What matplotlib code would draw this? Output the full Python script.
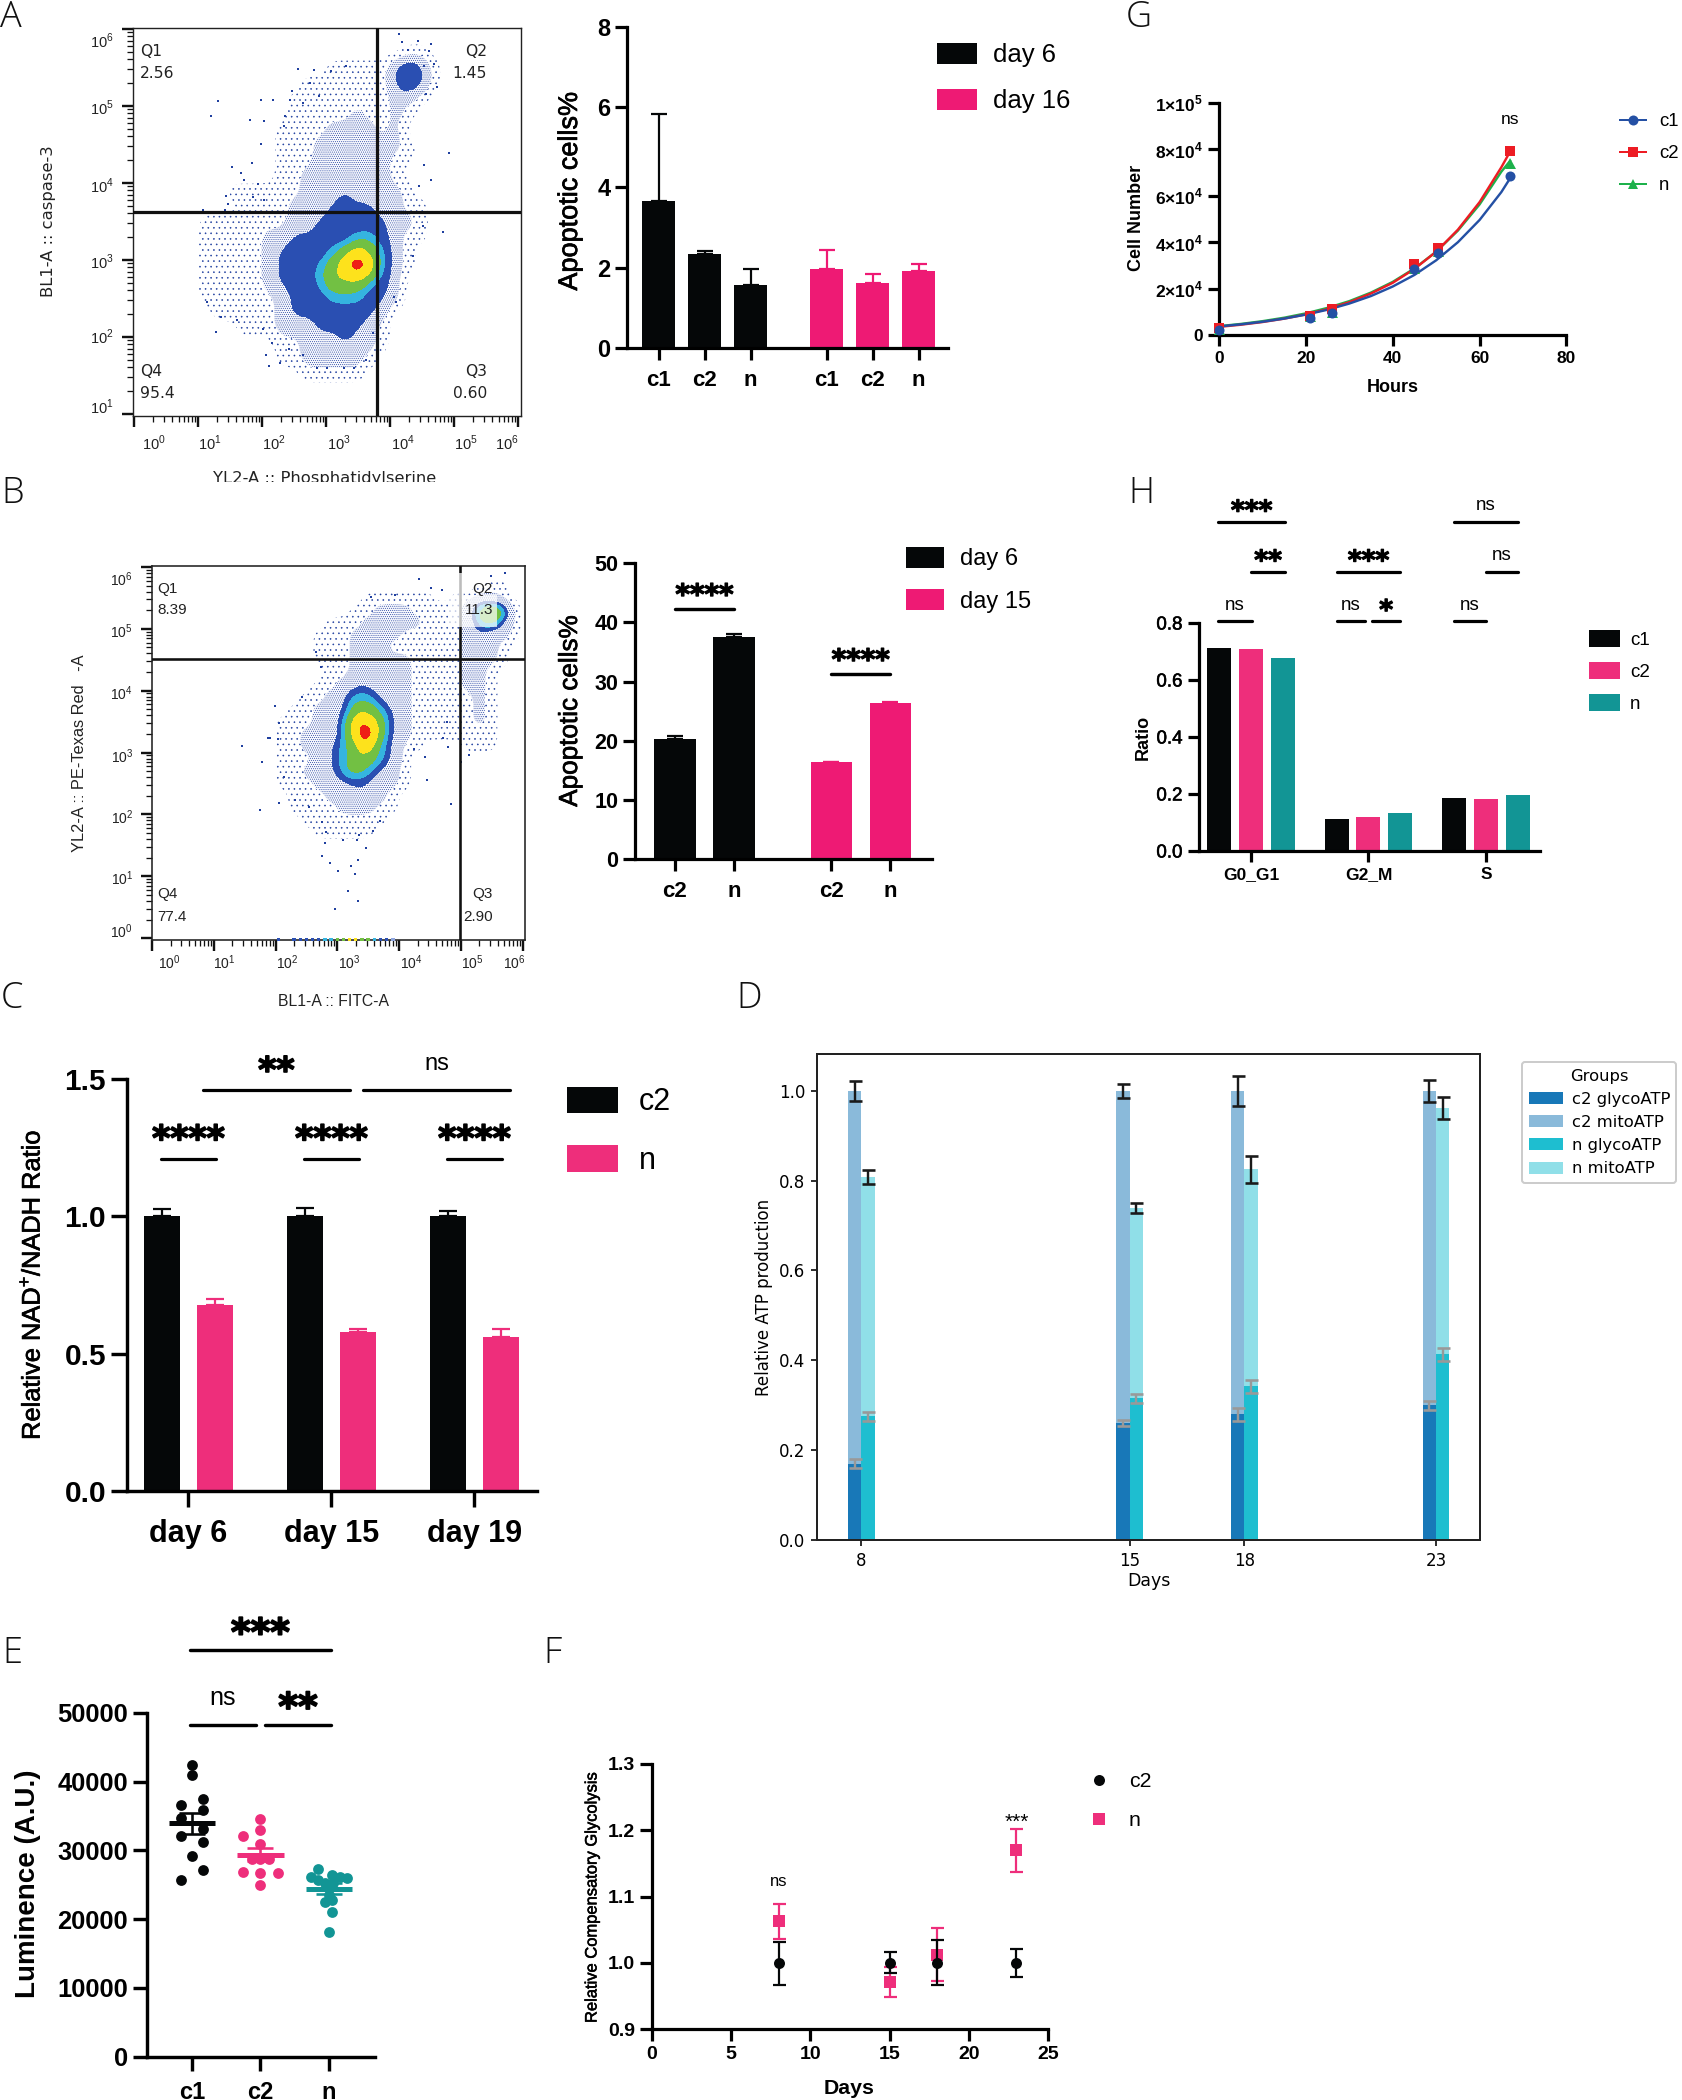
import numpy as np
import matplotlib
matplotlib.use("Agg")
import matplotlib.pyplot as plt
import matplotlib.patheffects as pe
from matplotlib.lines import Line2D
from matplotlib.patches import Patch, Rectangle
from matplotlib.transforms import Bbox

W, H = 1683, 2100
PT = 0.72  # points per pixel at dpi 100

plt.rcParams["font.family"] = ["Liberation Sans", "DejaVu Sans"]
plt.rcParams["mathtext.fontset"] = "custom"
plt.rcParams["mathtext.rm"] = "Liberation Sans"
plt.rcParams["mathtext.bf"] = "Liberation Sans:bold"
plt.rcParams["hatch.color"] = "#1f3f9f"
plt.rcParams["hatch.linewidth"] = 0.4

BLACK = "#050708"
PINK = "#ee1a74"
PINK2 = "#ee2e7b"
TEAL = "#129595"

# flow cytometry: density levels on a 0.2-decade grid, top row first
flow_a_density = [
    "000000000000000000000000000000",
    "000000000000000000000110000000",
    "000000000000000111113431000000",
    "000000000000011111113431000000",
    "000000000000111111112210000000",
    "000000000000111112112100000000",
    "000000000001111222212000000000",
    "000000000001112222222100000000",
    "000000000001112222221100000000",
    "000000000001122222221000000000",
    "000000011111122232222100000000",
    "000000001111222333322110000000",
    "000001111111223333332210000000",
    "000001111122333334432110000000",
    "000001111123333456542100000000",
    "000001111123334567642100000000",
    "000001111123334555432000000000",
    "000001111112333444332000000000",
    "000000111112333333320000000000",
    "000000001112223333210000000000",
    "000000000001122232210000000000",
    "000000000001122222100000000000",
    "000000000000011111000000000000",
    "000000000000000000000000000000",
    "000000000000000000000000000000",
]
flow_a_x = [1.31, 1.21, 1.98, 2.18, 2.03, 1.81, 2.34, 2.36, 1.98, 1.85, 1.54, 1.68, 1.72, 1.94, 1.44, 1.47, 1.86,
            2.03, 1.08, 1.43, 2.57, 2.82, 2.47, 2.44, 2.75, 2.89, 2.64, 3.08, 3.31, 4.14, 4.19, 4.44, 4.61, 4.64,
            4.29, 4.53, 4.69, 4.74, 4.56, 4.92, 4.83, 4.52, 4.53, 4.64, 4.46, 4.36, 4.06, 4.09, 1.28, 1.36, 1.14,
            1.61, 2.02, 2.11, 2.29, 2.06, 2.15, 2.42, 2.64, 2.86, 3.02, 3.28, 3.44, 3.63, 3.74]
flow_a_y = [5.06, 4.87, 5.08, 5.08, 4.80, 4.81, 4.74, 4.87, 4.50, 4.26, 4.20, 4.13, 4.04, 3.98, 3.83, 3.72, 3.81,
            3.78, 3.65, 3.65, 5.48, 5.46, 5.19, 5.08, 5.30, 5.13, 5.04, 5.45, 5.52, 5.93, 5.83, 5.84, 5.71, 5.80,
            5.73, 5.52, 5.54, 5.25, 5.15, 4.38, 3.36, 3.44, 4.23, 4.04, 3.96, 3.05, 2.51, 2.45, 2.06, 2.26, 2.45,
            2.22, 2.10, 1.62, 1.66, 1.76, 1.92, 1.84, 1.76, 1.59, 1.59, 1.60, 1.59, 1.70, 2.05]

flow_b_density = [
    "000000000000000000000000000000",
    "000000000000000000000000000110",
    "000000000000000001111110112210",
    "000000000000000011222111125651",
    "000000000000001112232211124531",
    "000000000000011122221111123221",
    "000000000000011121211111122210",
    "000000000000011122222111122210",
    "000000000000001122222111122100",
    "000000000000011233222111122100",
    "000000000000112344322110112100",
    "000000000001122355432111112100",
    "000000000011122466532111112100",
    "000000000011222467532111111100",
    "000000001011223456431100011100",
    "000000000011123455431000000000",
    "000000000011223454321000000000",
    "000000000011122333221000000000",
    "000000000001112233210000000000",
    "000000000001111222110000000000",
    "000000000000111111100000000000",
    "000000000000011111000000000000",
    "000000000000000000000000000000",
    "000000000000000000000000000000",
    "000000000000000000000000000000",
    "000000000000000000000000000000",
    "000000000000000000000000000000",
    "000000000000000000000000000000",
    "000000000000000000000000000000",
    "000000000000000000000000000000",
]
flow_b_x = [4.32, 4.51, 3.93, 3.55, 4.70, 5.72, 5.49, 2.66, 2.73, 2.43, 1.99, 2.06, 1.88, 1.91, 2.04, 1.45, 1.78,
            2.14, 2.05, 1.75, 2.31, 2.54, 4.84, 4.46, 3.70, 2.75, 2.82, 3.09, 2.80, 3.32, 3.35, 3.47, 3.58, 2.75,
            2.89, 3.02, 3.28, 3.22, 3.34, 3.18, 3.34, 2.97, 4.77, 4.71, 4.80, 5.00, 5.13, 4.25, 4.42]
flow_b_y = [5.80, 5.66, 5.55, 5.51, 5.63, 5.90, 5.86, 4.62, 4.38, 3.89, 3.75, 3.48, 3.24, 3.24, 3.22, 3.11, 2.85,
            2.61, 2.19, 2.07, 2.23, 2.12, 2.17, 2.56, 1.90, 1.88, 1.72, 1.58, 1.53, 1.59, 1.67, 1.45, 1.73, 1.32,
            1.22, 1.08, 1.03, 1.17, 1.27, 0.77, 0.60, 0.47, 3.49, 3.23, 3.09, 2.85, 2.96, 3.06, 2.93]
# events piled on the lower edge of panel B
flow_b_edge_x = [2.05, 2.3, 2.4, 2.5, 2.6, 2.7, 2.8, 2.9, 3.0, 3.1, 3.2, 3.3, 3.4, 3.5, 3.6, 3.7, 3.8, 3.9]
flow_b_edge_level = [3, 3, 3, 3, 3, 3, 4, 4, 5, 5, 6, 6, 5, 5, 4, 3, 3, 2]

# A bars
a_labels = ["c1", "c2", "n", "c1", "c2", "n"]
a_vals = [3.65, 2.34, 1.56, 1.96, 1.61, 1.91]
a_errs = [2.17, 0.07, 0.41, 0.49, 0.23, 0.17]
# B bars
b_labels = ["c2", "n", "c2", "n"]
b_vals = [20.35, 37.5, 16.35, 26.3]
b_errs = [0.45, 0.6, 0.1, 0.2]
# C bars
c_days = ["day 6", "day 15", "day 19"]
c_c2 = [1.0, 1.0, 1.0]
c_n = [0.677, 0.579, 0.562]
c_c2_err = [0.027, 0.032, 0.018]
c_n_err = [0.022, 0.010, 0.029]
# D stacked ATP
d_days = [8, 15, 18, 23]
d_c2_glyco = [0.170, 0.260, 0.280, 0.300]
d_c2_mito = [0.830, 0.740, 0.720, 0.700]
d_n_glyco = [0.275, 0.316, 0.342, 0.413]
d_n_mito = [0.533, 0.423, 0.483, 0.549]
d_c2_glyco_err = [0.010, 0.007, 0.014, 0.010]
d_c2_top_err = [0.022, 0.016, 0.033, 0.024]
d_n_glyco_err = [0.010, 0.010, 0.014, 0.014]
d_n_top_err = [0.015, 0.011, 0.031, 0.025]
# E luminence
e_c1 = [42470, 40920, 36650, 37470, 35870, 34700, 33150, 32040, 31170, 29130, 27180, 25730]
e_c1_off = [0, 0, -0.155, 0.155, 0.155, -0.155, 0.155, -0.155, 0.155, 0, 0.155, -0.155]
e_c2 = [34560, 33010, 32040, 30970, 28790, 28790, 28790, 26890, 26790, 26790, 25000]
e_c2_off = [0, 0, -0.25, 0, -0.13, 0.13, 0, -0.25, 0, 0.26, 0]
e_n = [27280, 26210, 26450, 25970, 26110, 25730, 25240, 25240, 23540, 22570, 22810, 21120, 18150]
e_n_off = [-0.155, -0.26, 0.05, 0.26, 0.16, -0.155, -0.06, 0.06, 0, -0.06, 0.05, 0.05, 0]
e_means = [33980, 29320, 24420]
e_sem_hi = [35440, 30340, 25300]
e_sem_lo = [32430, 28490, 23700]
# F compensatory glycolysis
f_days = [8, 15, 18, 23]
f_c2 = [1.0, 1.0, 1.0, 1.0]
f_c2_lo = [0.967, 0.984, 0.966, 0.979]
f_c2_hi = [1.032, 1.016, 1.034, 1.021]
f_n = [1.063, 0.971, 1.012, 1.170]
f_n_lo = [1.036, 0.949, 0.973, 1.137]
f_n_hi = [1.089, 0.993, 1.053, 1.202]
# G growth
g_hours = [0, 21, 26, 45, 50.5, 67]
g_c1 = [2000, 7500, 9500, 28500, 35500, 68500]
g_c2 = [3000, 8000, 11000, 30500, 37500, 79500]
g_n = [2500, 8000, 10000, 29000, 36000, 74000]
g_fit_hours = [0, 5, 10, 15, 20, 25, 30, 35, 40, 45, 50, 55, 60, 65, 67]
g_c1_fit = [3700, 4590, 5700, 7080, 8790, 10900, 13550, 16800, 20900, 25900, 32200, 40000, 49600, 61600, 67500]
g_c2_fit = [3500, 4420, 5580, 7040, 8890, 11200, 14150, 17900, 22500, 28500, 35900, 45400, 57300, 72300, 79000]
g_n_fit = [3800, 4760, 5960, 7450, 9330, 11700, 14600, 18300, 22900, 28700, 35900, 45000, 56300, 70400, 75000]
# H cell cycle
h_phases = ["G0_G1", "G2_M", "S"]
h_c1 = [0.712, 0.112, 0.185]
h_c2 = [0.709, 0.118, 0.1815]
h_n = [0.678, 0.135, 0.196]

fig = plt.figure(figsize=(W / 100, H / 100), dpi=100, facecolor="white")
semi = [pe.withStroke(linewidth=0.5, foreground="black")]


def px_axes(x0, y0, x1, y1):
    return fig.add_axes([x0 / W, 1 - y1 / H, (x1 - x0) / W, (y1 - y0) / H])


def ftext(x, y, s, **kw):
    kw.setdefault("ha", "center")
    kw.setdefault("va", "center")
    return fig.text(x / W, 1 - y / H, s, **kw)


def prism(ax, lw=3.2, ticklen=12):
    for s in ("top", "right"):
        ax.spines[s].set_visible(False)
    for s in ("left", "bottom"):
        ax.spines[s].set_linewidth(lw * PT)
        ax.spines[s].set_capstyle("projecting")
    ax.tick_params(width=lw * PT, length=ticklen * PT, color="black")
    ax.patch.set_alpha(0)


def top_err(ax, x, v, e, color, lw=2.2, cap=8):
    ax.errorbar(x, v, yerr=[np.zeros(len(v)), e], fmt="none", ecolor=color,
                elinewidth=lw * PT, capsize=cap * PT, capthick=lw * PT)


def sig(ax, x0, x1, y, label, fs, dy, lw=3.4, xc=None):
    # significance bar with its label dy pixels above the line
    ax.plot([x0, x1], [y, y], color="black", lw=lw * PT, clip_on=False, solid_capstyle="round")
    xm = (x0 + x1) / 2 if xc is None else xc
    if "*" in label:
        ax.annotate(label, (xm, y), xytext=(0, dy - 0.50 * fs / PT), textcoords="offset pixels", ha="center",
                    va="baseline", fontsize=fs, family="DejaVu Sans", fontweight="bold", annotation_clip=False,
                    path_effects=[pe.withStroke(linewidth=0.035 * fs / PT, foreground="black")])
    else:
        ax.annotate(label, (xm, y), xytext=(0, dy - 0.24 * fs / PT), textcoords="offset pixels", ha="center",
                    va="baseline", fontsize=fs, annotation_clip=False)


def key_legend(ax, labels, colors, x, y, w, h, pitch, text_x, fs):
    em = fs / PT
    handles = [Patch(facecolor=c, edgecolor="none") for c in colors]
    ax.legend(handles, labels, loc="upper left", bbox_to_anchor=(x / W, 1 - y / H), bbox_transform=fig.transFigure,
              frameon=False, fontsize=fs, borderpad=0, borderaxespad=0, handlelength=w / em, handleheight=h / em,
              labelspacing=(pitch - h) / em, handletextpad=(text_x - x - w) / em)


flow_colors = ["#ffffff", "#f7f8fd", "#2a4fb2", "#35b4df", "#72c043", "#fde21c", "#ee2016"]
flow_hatch = ["...", "........", None, None, None, None, None]


def soften(z, n=4):
    # blow each grid cell up and run a box filter so the bands come out round
    up = np.kron(z, np.ones((n, n)))
    k = np.ones(n + 1) / (n + 1)
    for _ in range(2):
        up = np.apply_along_axis(lambda r: np.convolve(r, k, mode="same"), 0, up)
        up = np.apply_along_axis(lambda r: np.convolve(r, k, mode="same"), 1, up)
    return up


def flow_panel(box, density, sx, sy, xlim, ylim, vgate, hgate, gate_lw, frame_lw, blue_from):
    ax = px_axes(*box)
    z = np.array([[int(c) for c in row] for row in density], dtype=float)[::-1]
    z = soften(z)
    xc = 0.025 + 0.05 * np.arange(z.shape[1])
    yc = 6.0 - 0.05 * z.shape[0] + 0.025 + 0.05 * np.arange(z.shape[0])
    levels = [0.55, 1.5, blue_from, 3.7, 4.3, 5.2, 6.1, 8.5]
    ax.contourf(xc, yc, z, levels=levels, colors=flow_colors, hatches=flow_hatch)
    ax.scatter(sx, sy, s=2.5, marker="s", color="#1f3f9f", linewidths=0)
    ax.set_xlim(*xlim)
    ax.set_ylim(*ylim)
    ax.axvline(vgate, color="#111111", lw=gate_lw * PT, zorder=5)
    ax.axhline(hgate, color="#111111", lw=gate_lw * PT, zorder=5)
    for s in ax.spines.values():
        s.set_linewidth(frame_lw * PT)
        s.set_color("#222222")
    decades = np.arange(0, 7)
    minor = np.concatenate([k + np.log10(np.arange(2, 10)) for k in range(0, 6)])
    ax.set_xticks(decades, [""] * 7)
    ax.set_yticks(decades[decades >= ylim[0]], [""] * int((decades >= ylim[0]).sum()))
    ax.set_xticks(minor[minor <= xlim[1]], minor=True)
    ax.set_yticks(minor[(minor >= ylim[0]) & (minor <= ylim[1])], minor=True)
    ax.tick_params(which="major", width=2.4 * PT, length=11 * PT, color="#111111")
    ax.tick_params(which="minor", width=1.3 * PT, length=6 * PT, color="#111111")
    return ax


def flow_label(ax, s, xy, dx, dy, fs=10.5, **kw):
    kw.setdefault("ha", "center")
    kw.setdefault("va", "center")
    ax.annotate(s, xy, xytext=(dx, dy), textcoords="offset pixels", color="#222222", fontsize=fs,
                annotation_clip=False, **kw)


# panel A, flow plot
ax = flow_panel((133, 28, 521, 416), flow_a_density, flow_a_x, flow_a_y, (-0.015, 6.05), (0.97, 6.01), 3.80, 3.62, 3.2, 1.4, 2.75)
for k, dx in enumerate([20, 12, 12, 13, 13, 12, -11]):
    flow_label(ax, f"$10^{{{k}}}$", (k, 0.97), dx, -27, fs=10.5)
for k, dy in zip(range(1, 7), [6, -1, -3, -4, -3, -13]):
    flow_label(ax, f"$10^{{{k}}}$", (-0.015, k), -19, dy, fs=10.5, ha="right")
for x, y, s, ha in [(140, 51, "Q1", "left"), (140, 73, "2.56", "left"), (487, 51, "Q2", "right"), (487, 73, "1.45", "right"),
                    (140, 372, "Q4", "left"), (140, 393, "95.4", "left"), (487, 372, "Q3", "right"), (487, 393, "0.60", "right")]:
    ftext(x, y, s, ha=ha, fontsize=11.2, family="DejaVu Sans", color="#222222")
ftext(48.5, 221, "BL1-A :: caspase-3", rotation=90, fontsize=11.8, family="DejaVu Sans", color="#222222")
t = ftext(325, 478, "YL2-A :: Phosphatidylserine", fontsize=11.8, family="DejaVu Sans", color="#222222")
t.set_clip_box(Bbox([[0, H - 482], [W, H]]))
t.set_clip_on(True)

# panel B, flow plot
ax = flow_panel((152, 566, 525, 940), flow_b_density, flow_b_x, flow_b_y, (0, 6.04), (-0.03, 6.015), 4.99, 4.505, 2.6, 1.6, 3.1)
edge_palette = ["#ffffff", "#dfe6f6", "#8fa6df", "#2a4fb2", "#35b4df", "#72c043", "#fde21c"]
ax.scatter(flow_b_edge_x, [-0.02] * len(flow_b_edge_x), c=[edge_palette[k] for k in flow_b_edge_level],
           s=6, marker="s", linewidths=0, clip_on=False, zorder=6)
ax.add_patch(Rectangle((4.8, 5.03), 0.78, 0.51, facecolor="white", alpha=0.72, edgecolor="none", zorder=7))
ax.add_patch(Rectangle((4.92, 5.54), 0.13, 0.36, facecolor="white", alpha=0.72, edgecolor="none", zorder=7))
for k, dx in enumerate([17, 10, 12, 12, 12, 12, -8]):
    flow_label(ax, f"$10^{{{k}}}$", (k, -0.03), dx, -23, fs=10)
for k, dy in enumerate([6, -2, -3, -4, -3, -3, -13]):
    flow_label(ax, f"$10^{{{k}}}$", (0, k), -19, dy, fs=10, ha="right")
for x, y, s, ha in [(157, 589, "Q1", "left"), (157, 610, "8.39", "left"), (493, 589, "Q2", "right"), (493, 610, "11.3", "right"),
                    (157, 894, "Q4", "left"), (157, 917, "77.4", "left"), (493, 894, "Q3", "right"), (493, 917, "2.90", "right")]:
    ftext(x, y, s, ha=ha, fontsize=11, color="#222222", zorder=9)
ftext(80, 753, "YL2-A :: PE-Texas Red   -A", rotation=90, fontsize=11.8, color="#222222")
ftext(333, 1002, "BL1-A :: FITC-A", fontsize=11.3, color="#222222")

# panel A, bars
ax = px_axes(627.5, 26.7, 948, 348)
prism(ax)
pos = np.array([0, 1, 2, 3.65, 4.65, 5.65])
bar_cols = [BLACK] * 3 + [PINK] * 3
ax.bar(pos, a_vals, 0.7, color=bar_cols)
top_err(ax, pos[:3], a_vals[:3], a_errs[:3], BLACK)
top_err(ax, pos[3:], a_vals[3:], a_errs[3:], PINK)
ax.set_xlim(-0.674, 6.29)
ax.set_ylim(0, 8)
ax.set_xticks(pos, a_labels, fontsize=16, fontweight="bold")
ax.set_yticks([0, 2, 4, 6, 8], ["0", "2", "4", "6", "8"], fontsize=17, fontweight="bold")
ax.tick_params(axis="x", pad=7.5)
ftext(570, 191, "Apoptotic cells%", rotation=90, fontsize=19.5, path_effects=semi)
key_legend(ax, ["day 6", "day 16"], [BLACK, PINK], 937.5, 43, 40, 23, 44.5, 993.5, 18.5)

# panel B, bars
ax = px_axes(635, 563.3, 932, 859)
prism(ax)
pos = np.array([0, 1, 2.65, 3.65])
ax.bar(pos, b_vals, 0.7, color=[BLACK, BLACK, PINK, PINK])
top_err(ax, pos[:2], b_vals[:2], b_errs[:2], BLACK)
top_err(ax, pos[2:], b_vals[2:], b_errs[2:], PINK)
ax.set_xlim(-0.678, 4.36)
ax.set_ylim(0, 50)
ax.set_xticks(pos, b_labels, fontsize=16, fontweight="bold")
ax.set_yticks([0, 10, 20, 30, 40, 50], ["0", "10", "20", "30", "40", "50"], fontsize=15.5, fontweight="bold")
ax.tick_params(axis="x", pad=7)
sig(ax, 0, 1, 42.3, "****", 20, 19)
sig(ax, 2.65, 3.65, 31.3, "****", 20, 19)
ftext(570, 711, "Apoptotic cells%", rotation=90, fontsize=18.8, path_effects=semi)
key_legend(ax, ["day 6", "day 15"], [BLACK, PINK], 906, 547, 38, 23, 42, 960, 17)

# panel C, NAD ratio
ax = px_axes(127, 1079, 537.5, 1491)
prism(ax, lw=3.4, ticklen=16)
x = np.arange(3)
off = 26.5 / 143
ax.bar(x - off, c_c2, 36 / 143, color=BLACK)
ax.bar(x + off, c_n, 36 / 143, color=PINK2)
top_err(ax, x - off, c_c2, c_c2_err, BLACK, lw=2.2, cap=9)
top_err(ax, x + off, c_n, c_n_err, PINK2, lw=2.2, cap=9)
ax.set_xlim((127 - 188.4) / 143, (537.5 - 188.4) / 143)
ax.set_ylim(0, 1.5)
ax.set_xticks(x, c_days, fontsize=22, fontweight="bold")
ax.set_yticks([0, 0.5, 1.0, 1.5], ["0.0", "0.5", "1.0", "1.5"], fontsize=21.5, fontweight="bold")
ax.tick_params(axis="x", pad=8.5)
for i in x:
    sig(ax, i - 0.19, i + 0.19, 1.21, "****", 25, 26, lw=3.2)
sig(ax, 0.10, 1.13, 1.459, "**", 25, 26, lw=3.2)
sig(ax, 1.22, 2.25, 1.459, "ns", 17, 26, lw=3.2)
ftext(32, 1285, "Relative NAD$^{+}$/NADH Ratio", rotation=90, fontsize=18.3, path_effects=semi)
key_legend(ax, ["c2", "n"], [BLACK, PINK2], 567, 1086.5, 51, 29.5, 57.5, 639, 22)

# panel D, stacked ATP production
ax = px_axes(817, 1054, 1480, 1540)
w = 0.347
days = np.array(d_days)
c2_top = np.array(d_c2_glyco) + np.array(d_c2_mito)
n_top = np.array(d_n_glyco) + np.array(d_n_mito)
ax.bar(days - w / 2, d_c2_glyco, w, color="#1878b8", label="c2 glycoATP")
ax.bar(days - w / 2, d_c2_mito, w, bottom=d_c2_glyco, color="#8abada", label="c2 mitoATP")
ax.bar(days + w / 2, d_n_glyco, w, color="#1ebed0", label="n glycoATP")
ax.bar(days + w / 2, d_n_mito, w, bottom=d_n_glyco, color="#90dfe8", label="n mitoATP")
eb = dict(fmt="none", capsize=6.5 * PT, elinewidth=2.4 * PT, capthick=2.6 * PT)
ax.errorbar(days - w / 2, d_c2_glyco, yerr=d_c2_glyco_err, ecolor="#999999", **eb)
ax.errorbar(days + w / 2, d_n_glyco, yerr=d_n_glyco_err, ecolor="#999999", **eb)
ax.errorbar(days - w / 2, c2_top, yerr=d_c2_top_err, ecolor="#1a1a1a", **eb)
ax.errorbar(days + w / 2, n_top, yerr=d_n_top_err, ecolor="#1a1a1a", **eb)
ax.set_xlim(6.84, 24.15)
ax.set_ylim(0, 1.082)
ax.set_xticks(days, [str(d) for d in d_days], fontsize=12, family="DejaVu Sans")
ax.set_yticks([0, 0.2, 0.4, 0.6, 0.8, 1.0], ["0.0", "0.2", "0.4", "0.6", "0.8", "1.0"], fontsize=12, family="DejaVu Sans")
ax.tick_params(width=1.6 * PT, length=6 * PT, pad=4)
for s in ax.spines.values():
    s.set_linewidth(2.0 * PT)
    s.set_color("#222222")
ftext(764, 1297, "Relative ATP production", rotation=90, fontsize=12, family="DejaVu Sans")
ftext(1149, 1581, "Days", fontsize=12.5, family="DejaVu Sans")
em = 11.8 / PT
leg = ax.legend(title="Groups", loc="upper left", bbox_to_anchor=(1522 / W, 1 - 1062 / H), bbox_transform=fig.transFigure,
                title_fontsize=11.8, prop={"family": "DejaVu Sans", "size": 11.8}, borderaxespad=0,
                handlelength=34 / em, handleheight=12.5 / em, labelspacing=0.5, handletextpad=0.55, borderpad=0.4,
                fancybox=True, framealpha=1, edgecolor="#cccccc")
leg.get_title().set_family("DejaVu Sans")
leg.get_frame().set_linewidth(2.0 * PT)

# panel E, luminence scatter
ax = px_axes(147, 1713, 375, 2056.7)
prism(ax, lw=3.4, ticklen=14)
for i, (vals, offs, col) in enumerate([(e_c1, e_c1_off, BLACK), (e_c2, e_c2_off, PINK2), (e_n, e_n_off, TEAL)]):
    ax.scatter(i + np.array(offs), vals, s=(10.8 * PT) ** 2, color=col, linewidths=0, clip_on=False, zorder=3)
    ax.hlines(e_means[i], i - 0.34, i + 0.34, color=col, lw=5 * PT, zorder=4)
    ax.vlines(i, e_sem_lo[i], e_sem_hi[i], color=col, lw=2.6 * PT, zorder=4)
    ax.hlines([e_sem_lo[i], e_sem_hi[i]], i - 0.19, i + 0.19, color=col, lw=2.6 * PT, zorder=4)
ax.set_xlim(-0.658, 2.675)
ax.set_ylim(0, 50000)
ax.set_xticks([0, 1, 2], ["c1", "c2", "n"], fontsize=17, fontweight="bold")
ax.set_yticks(np.arange(0, 50001, 10000), ["0", "10000", "20000", "30000", "40000", "50000"], fontsize=18.4, fontweight="bold")
ax.tick_params(axis="x", pad=7.5)
sig(ax, -0.03, 0.93, 48300, "ns", 18, 26)
sig(ax, 1.07, 2.03, 48300, "**", 27, 24)
sig(ax, -0.03, 2.03, 59120, "***", 27, 24)
ftext(28, 1884, "Luminence (A.U.)", rotation=90, fontsize=20, fontweight="bold")

# panel F, compensatory glycolysis
ax = px_axes(652, 1764, 1048, 2029)
prism(ax, lw=3.2, ticklen=12)
d = np.array(f_days)
ax.errorbar(d, f_n, yerr=[np.array(f_n) - f_n_lo, np.array(f_n_hi) - f_n], fmt="none", ecolor=PINK2,
            elinewidth=2.2 * PT, capsize=6.5 * PT, capthick=2.2 * PT)
ax.plot(d, f_n, ls="none", marker="s", color=PINK2, ms=12 * PT, mew=0)
ax.errorbar(d, f_c2, yerr=[np.array(f_c2) - f_c2_lo, np.array(f_c2_hi) - f_c2], fmt="none", ecolor=BLACK,
            elinewidth=2.2 * PT, capsize=6.5 * PT, capthick=2.2 * PT)
ax.plot(d, f_c2, ls="none", marker="o", color=BLACK, ms=11 * PT, mew=0)
ax.set_xlim(0, 25)
ax.set_ylim(0.9, 1.3)
ax.set_xticks(np.arange(0, 26, 5), ["0", "5", "10", "15", "20", "25"], fontsize=14, fontweight="bold")
ax.set_yticks([0.9, 1.0, 1.1, 1.2, 1.3], ["0.9", "1.0", "1.1", "1.2", "1.3"], fontsize=14, fontweight="bold")
ax.annotate("ns", (8, 1.089), xytext=(0, 18), textcoords="offset pixels", ha="center", va="baseline", fontsize=12)
ax.annotate("***", (23, 1.202), xytext=(0, 1), textcoords="offset pixels", ha="center", va="baseline", fontsize=15)
ftext(592, 1897, "Relative Compensatory Glycolysis", rotation=90, fontsize=11.9, path_effects=[pe.withStroke(linewidth=0.4, foreground="black")])
ftext(849, 2089, "Days", fontsize=15.3, fontweight="bold")
em = 15.3 / PT
ax.legend([Line2D([], [], ls="none", marker="o", color=BLACK, ms=11 * PT, mew=0), Line2D([], [], ls="none", marker="s", color=PINK2, ms=12 * PT, mew=0)],
          ["c2", "n"], loc="upper left", bbox_to_anchor=(1085 / W, 1 - 1772 / H), bbox_transform=fig.transFigure, frameon=False,
          fontsize=15.3, borderpad=0, borderaxespad=0, handlelength=28 / em, handletextpad=16 / em, labelspacing=(37 - 17) / em)

# panel G, growth curves
ax = px_axes(1219, 103, 1566.5, 335)
prism(ax, lw=3.2, ticklen=11)
for fit, pts, col, mk, ms in [(g_n_fit, g_n, "#1db14b", "^", 11), (g_c2_fit, g_c2, "#ed1c24", "s", 10), (g_c1_fit, g_c1, "#2450a4", "o", 10)]:
    ax.plot(g_fit_hours, fit, color=col, lw=2.4 * PT, clip_on=False)
    ax.plot(g_hours, pts, ls="none", marker=mk, color=col, ms=ms * PT, mew=0, clip_on=False, zorder=5)
ax.set_xlim(0, 80)
ax.set_ylim(0, 1e5)
ax.set_xticks([0, 20, 40, 60, 80], ["0", "20", "40", "60", "80"], fontsize=12.5, fontweight="bold")
ax.set_yticks([0, 2e4, 4e4, 6e4, 8e4, 1e5], ["0", r"2×10$^{\mathbf{4}}$", r"4×10$^{\mathbf{4}}$", r"6×10$^{\mathbf{4}}$", r"8×10$^{\mathbf{4}}$", r"1×10$^{\mathbf{5}}$"],
              fontsize=12.5, fontweight="bold")
ftext(1510, 119, "ns", fontsize=12.5)
ftext(1137, 218, "Cell Number", rotation=90, fontsize=13, fontweight="bold")
ftext(1393, 387, "Hours", fontsize=13, fontweight="bold")
em = 13.4 / PT
ax.legend([Line2D([], [], color="#2450a4", marker="o", lw=2 * PT, ms=10 * PT, mew=0), Line2D([], [], color="#ed1c24", marker="s", lw=2 * PT, ms=10 * PT, mew=0),
           Line2D([], [], color="#1db14b", marker="^", lw=2 * PT, ms=10 * PT, mew=0)], ["c1", "c2", "n"], loc="upper left",
          bbox_to_anchor=(1620 / W, 1 - 113 / H), bbox_transform=fig.transFigure, frameon=False, fontsize=13.4, borderpad=0, borderaxespad=0,
          handlelength=26 / em, handletextpad=13 / em, labelspacing=(33 - 18) / em)

# panel H, cell cycle ratios
ax = px_axes(1198.5, 623, 1540, 851)
prism(ax, lw=3.2, ticklen=11)
x = np.arange(3)
off = 31.8 / 117.5
bw = 24 / 117.5
ax.bar(x - off, h_c1, bw, color=BLACK)
ax.bar(x, h_c2, bw, color=PINK2)
ax.bar(x + off, h_n, bw, color=TEAL)
ax.set_xlim(-0.447, 2.46)
ax.set_ylim(0, 0.8)
ax.set_xticks(x, h_phases, fontsize=12.5, fontweight="bold")
ax.set_yticks([0, 0.2, 0.4, 0.6, 0.8], ["0.0", "0.2", "0.4", "0.6", "0.8"], fontsize=13.5)
for t in ax.get_yticklabels():
    t.set_path_effects([pe.withStroke(linewidth=0.4, foreground="black")])
for a, b, y, s in [(-0.28, 0.29, 1.155, "***"), (0.0, 0.29, 0.98, "**"), (-0.28, 0.01, 0.806, "ns"),
                   (0.73, 1.27, 0.98, "***"), (0.73, 0.97, 0.806, "ns"), (1.03, 1.27, 0.806, "*"),
                   (1.73, 2.27, 1.155, "ns"), (2.0, 2.27, 0.98, "ns"), (1.73, 2.0, 0.806, "ns")]:
    sig(ax, a, b, y, s, 19 if "*" in s else 13.5, 16, lw=3.2)
ftext(1143, 737, "Ratio", rotation=90, fontsize=13, fontweight="bold")
key_legend(ax, ["c1", "c2", "n"], [BLACK, PINK2, TEAL], 1589, 630, 31, 19, 32, 1630, 13.5)

# panel letters
for s, x, y in [("A", 0, 27), ("B", 1, 503), ("C", 1, 1008), ("D", 736, 1008), ("E", 2, 1663), ("F", 543, 1663), ("G", 1126, 27), ("H", 1128, 503)]:
    fig.text(x / W, 1 - y / H, s, fontsize=26, family="Open Sans", fontweight="light", ha="left", va="baseline", color="#111111")

fig.savefig("out.png", dpi=100, facecolor="white")
